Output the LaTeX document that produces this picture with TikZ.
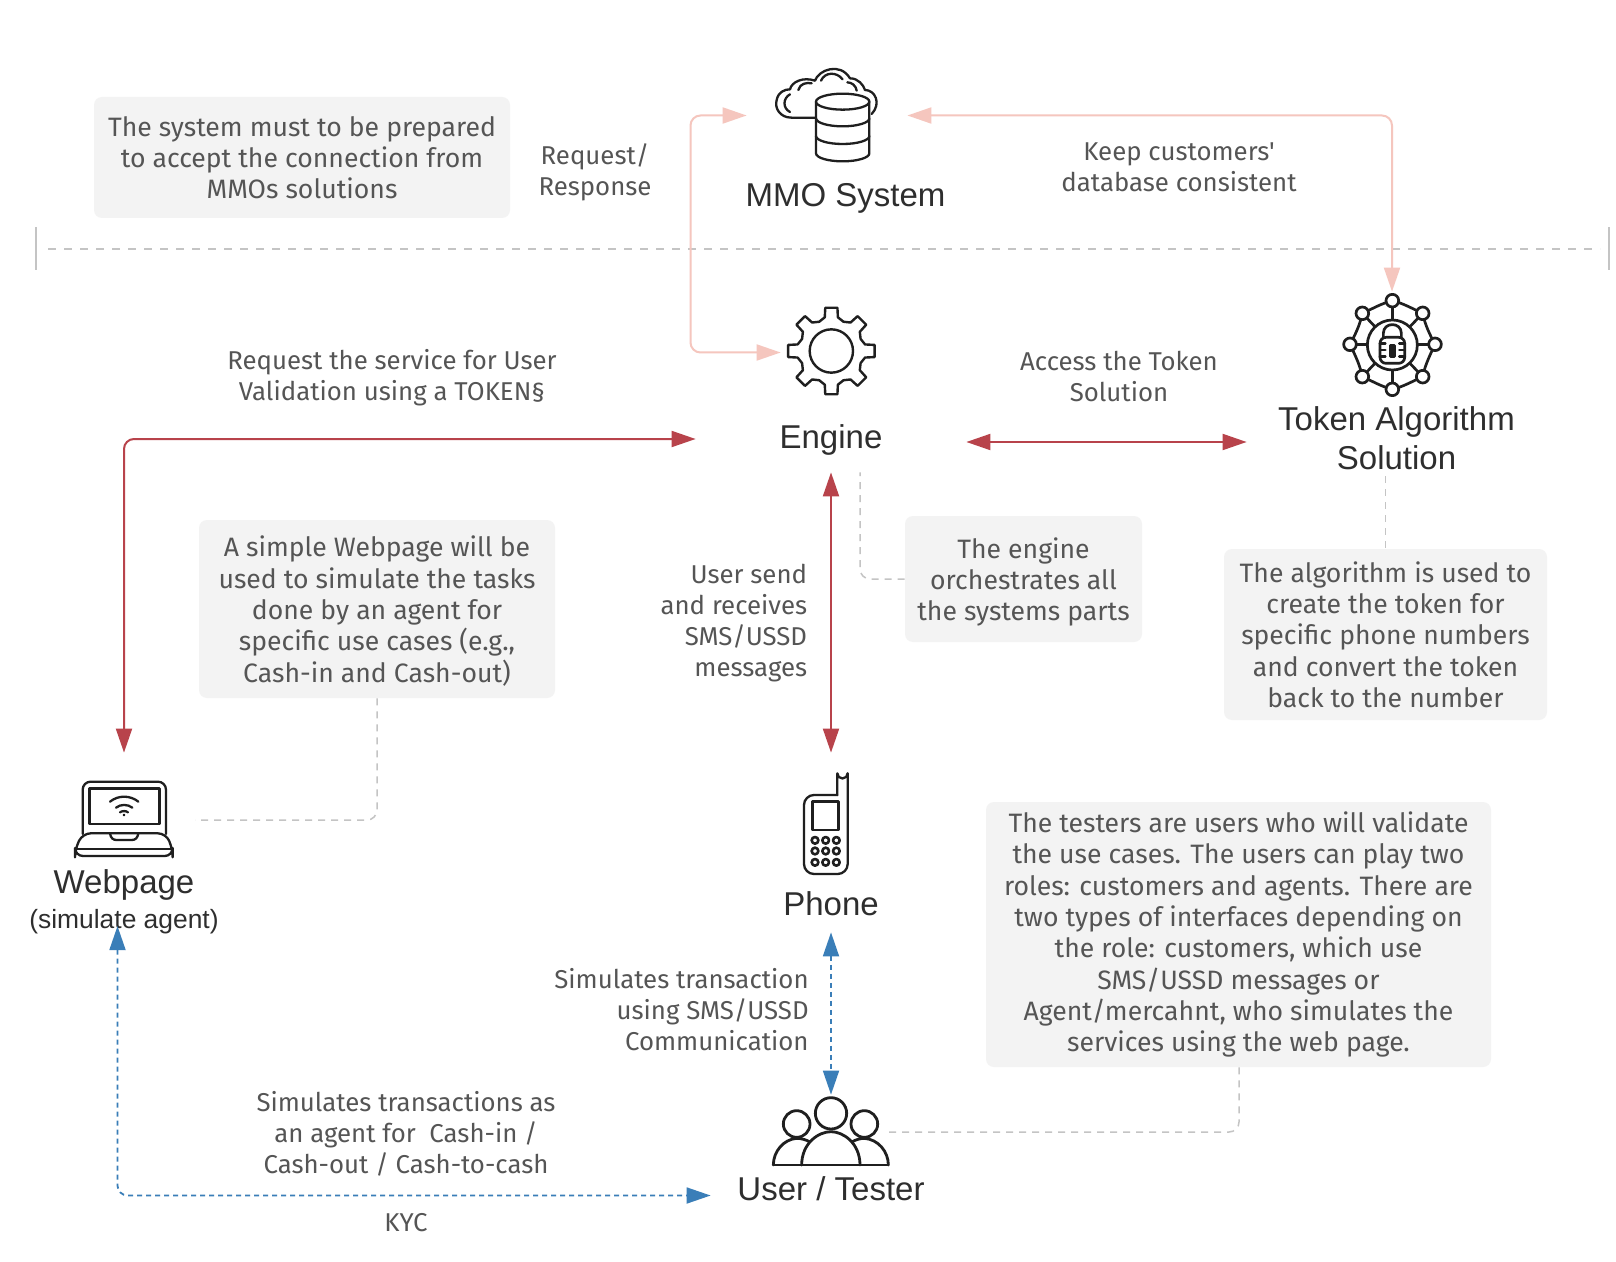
\documentclass[tikz,border=0pt]{standalone}
\usepackage{fontspec}
\setmainfont{Liberation Sans}
\newfontfamily\notefont{Fira Sans}
\usetikzlibrary{arrows.meta,calc}
\definecolor{notefill}{HTML}{F3F3F3}
\definecolor{notetext}{HTML}{555555}
\definecolor{softpink}{HTML}{F5C6BE}
\definecolor{darkred}{HTML}{B8434B}
\definecolor{flowblue}{HTML}{3A7EB8}
\definecolor{dashgrey}{HTML}{C4C4C4}
\definecolor{icontext}{HTML}{2E2E2E}
\tikzset{
  notebox/.style={fill=notefill,rounded corners=4pt,inner sep=0pt,text=notetext,align=center,font=\notefont\fontsize{13.3}{15.65}\selectfont},
  caption/.style={inner sep=0pt,text=notetext,align=center,font=\notefont\fontsize{12.9}{15.45}\selectfont},
  rcaption/.style={inner sep=0pt,text=notetext,align=right,font=\notefont\fontsize{12.9}{15.45}\selectfont},
  title/.style={inner sep=0pt,text=icontext,align=center,font=\fontsize{16.5}{19.5}\selectfont},
  anchorbox/.style={inner sep=0pt,draw=none},
  pinkflow/.style={draw=softpink,line width=1pt,rounded corners=5pt,{Triangle[length=12pt,width=8pt,fill=softpink]}-{Triangle[length=12pt,width=8pt,fill=softpink]}},
  redflow/.style={draw=darkred,line width=1pt,rounded corners=5pt,{Triangle[length=12pt,width=8pt,fill=darkred]}-{Triangle[length=12pt,width=8pt,fill=darkred]}},
  blueflow/.style={draw=flowblue,line width=.9pt,dash pattern=on 2.5pt off 2pt,rounded corners=5pt,{Triangle[length=12pt,width=8pt,fill=flowblue]}-{Triangle[length=12pt,width=8pt,fill=flowblue]}},
  greydash/.style={draw=dashgrey,line width=.75pt,dash pattern=on 3.5pt off 3pt,rounded corners=5pt},
  iconline/.style={draw=black!88,line width=1.15pt,line join=round,line cap=round},
}
\begin{document}
\begin{tikzpicture}[x=0.5pt,y=-0.5pt]
\useasboundingbox (0,0) rectangle (1616,1262);
\fill[white] (0,0) rectangle (1616,1262);

% notes
\node[notebox,minimum width=208pt,minimum height=60.5pt] (noteSys) at (302,157.5) {The system must to be prepared\\to accept the connection from\\MMOs solutions};
\node[notebox,minimum width=178pt,minimum height=89pt] (noteWeb) at (377,609) {\rule{0pt}{12.5pt}A simple Webpage will be\\used to simulate the tasks\\done by an agent for\\specific use cases (e.g.,\\Cash-in and Cash-out)};
\node[notebox,minimum width=118.5pt,minimum height=63pt] (noteEng) at (1023.5,579) {\rule{0pt}{13.5pt}The engine\\orchestrates all\\the systems parts};
\node[notebox,minimum width=161.5pt,minimum height=85.5pt] (noteTok) at (1385.5,634.5) {The algorithm is used to\\create the token for\\specific phone numbers\\and convert the token\\back to the number};
\node[notebox,minimum width=252.5pt,minimum height=132.5pt] (noteTest) at (1238.5,934.5) {\rule{0pt}{10.5pt}The testers are users who will validate\\the use cases. The users can play two\\roles: customers and agents. There are\\two types of interfaces depending on\\the role: customers, which use\\SMS/USSD messages or\\Agent/mercahnt, who simulates the\\services using the web page.};

% separator
\coordinate (sepL) at (36,249);
\coordinate (sepR) at (1609,249);
\draw[draw=dashgrey,line width=.75pt,dash pattern=on 4pt off 4pt] (48,249) -- (1600,249);
\draw[draw=dashgrey,line width=1pt] ([yshift=-10.5pt]sepL) -- ([yshift=11pt]sepL);
\draw[draw=dashgrey,line width=1pt] ([yshift=-10.5pt]sepR) -- ([yshift=11pt]sepR);

% anchor boxes for icons
\node[anchorbox,minimum width=80pt,minimum height=52pt] (mmo) at (827,115.5) {};
\node[anchorbox,minimum width=50pt,minimum height=50pt] (gear) at (831,352.5) {};
\node[anchorbox,minimum width=53pt,minimum height=53pt] (token) at (1392,345) {};
\node[anchorbox,minimum width=30pt,minimum height=67pt] (laptop) at (124,820) {};
\node[anchorbox,minimum width=30pt,minimum height=69pt] (phone) at (831,822) {};
\node[anchorbox,minimum width=60pt,minimum height=36pt] (users) at (831,1131) {};

% titles
\node[title] (mmoT) at (845.5,198) {MMO System};
\node[title,minimum width=135pt,minimum height=32pt] (engineT) at (831,440) {Engine};
\node[title] (tokenT) at (1396.5,438) {Token Algorithm\\Solution};
\node[anchorbox,minimum width=149pt,minimum height=10pt] (tokenPort) at (1396,442) {};
\node[title,minimum height=28pt] (phoneT) at (831,904) {Phone};
\node[title] (webT) at (124,885) {Webpage};
\node[inner sep=0pt,text=icontext,font=\fontsize{13.2}{15}\selectfont] (webS) at (124,922) {(simulate agent)};
\node[anchorbox,minimum width=10pt,minimum height=15pt] (webPort) at (117.5,941.5) {};
\node[title,minimum width=120pt,minimum height=13pt] (userT) at (831,1189) {User / Tester};

% captions
\node[caption] (c1) at (595,172) {Request/\\Response};
\node[caption] (c2) at (1179,167) {Keep customers'\\database consistent};
\node[caption] (c3) at (392,378) {Request the service for User\\Validation using a TOKEN§};
\node[caption] (c4) at (1119,376.5) {Access the Token\\Solution};
\node[rcaption,anchor=east] (c5) at (807.5,623) {User send\\and receives\\SMS/USSD\\messages};
\node[rcaption,anchor=east] (c6) at (809,1009.5) {Simulates transaction\\using SMS/USSD\\Communication};
\node[caption] (c7) at (406,1134) {Simulates transactions as\\an agent for~ Cash-in /\\Cash-out / Cash-to-cash};
\node[caption] (c8) at (406,1223) {KYC};

% routing points
\coordinate (rPinkL) at (690.5,115.5);
\coordinate (rPinkR) at (1392,115.5);
\coordinate (rRed) at (124,439);
\coordinate (rBlue) at (117.5,1195.5);
\coordinate (rWeb) at (377,820);
\coordinate (rEng) at (860,579);
\coordinate (rTest) at (1239,1132);

% connectors
\draw[pinkflow] (gear.west) -| (rPinkL) -- (mmo.west);
\draw[pinkflow] (mmo.east) -- (rPinkR) -- (token.north);
\draw[redflow] (engineT.west |- rRed) -- (rRed) -- (laptop.north -| rRed);
\draw[redflow] (engineT.east |- tokenPort) -- (tokenPort.west);
\draw[redflow] (engineT.south) -- (phone.north);
\draw[blueflow] (phoneT.south) -- (users.north);
\draw[blueflow] (webPort.north) -- (rBlue) -- (userT.west |- rBlue);
\draw[greydash] (noteWeb.south) |- (195,820);
\draw[greydash] (noteEng.west) -| (engineT.south -| rEng);
\draw[greydash] (tokenT.south -| noteTok.north) ++(0,6) -- (noteTok.north);
\draw[greydash] (noteTest.south -| rTest) -- (rTest) -- (888,1132);

% MMO icon
\begin{scope}[shift={(740,50)},x=0.16667pt,y=-0.16667pt,iconline]
\draw (225,203) -- (155,203) .. controls (120,203) and (103,175) .. (110,150) .. controls (115,125) and (135,118) .. (150,118) .. controls (155,95) and (190,80) .. (225,92) .. controls (235,60) and (300,35) .. (330,85) .. controls (355,85) and (370,105) .. (375,120) .. controls (405,120) and (425,160) .. (395,192);
\draw (150,133) .. controls (128,145) and (128,175) .. (150,186);
\draw (175,120) .. controls (180,100) and (200,97) .. (215,100);
\draw (243,92) .. controls (255,65) and (290,65) .. (308,88);
\draw (322,97) .. controls (335,97) and (348,107) .. (350,122);
\draw[fill=white] (228,155) -- (228,310) arc[start angle=180,end angle=360,x radius=80,y radius=-24] -- (388,155);
\draw[fill=white] (308,155) ellipse[x radius=80,y radius=24];
\draw (228,205) arc[start angle=180,end angle=360,x radius=80,y radius=-24];
\draw (228,258) arc[start angle=180,end angle=360,x radius=80,y radius=-24];
\end{scope}

% Gear icon
\begin{scope}[shift={(760,290)},x=0.16667pt,y=-0.16667pt,iconline,line width=1.2pt]
\draw (214,183) ++(-8:131)
  \foreach \a in {0,45,...,315}{ -- ++(0,0) -- ($(214,183)+(\a+8:131)$) -- ($(214,183)+(\a+11:103)$) -- ($(214,183)+(\a+22.5:95)$) -- ($(214,183)+(\a+34:103)$) -- ($(214,183)+(\a+37:131)$)} -- cycle;
\draw (214,183) circle[radius=65];
\end{scope}

% Token icon
\begin{scope}[shift={(1320,280)},x=0.16667pt,y=-0.16667pt,iconline,line width=1.35pt]
\foreach \p/\q in {217/62,127/100,308/100,90/193,345/193,127/290,308/290,217/328}{
  \draw (217,195) -- (\p,\q);
}
\draw (217,62) .. controls (185,70) and (160,85) .. (127,100) .. controls (120,135) and (105,165) .. (90,193) .. controls (105,225) and (120,255) .. (127,290) .. controls (160,305) and (185,320) .. (217,328) .. controls (250,320) and (275,305) .. (308,290) .. controls (315,255) and (330,225) .. (345,193) .. controls (330,165) and (315,135) .. (308,100) .. controls (275,85) and (250,70) .. (217,62) -- cycle;
\foreach \p/\q in {217/62,127/100,308/100,90/193,345/193,127/290,308/290,217/328}{
  \draw[fill=white] (\p,\q) circle[radius=19];
}
\draw[fill=white] (217,195) circle[radius=75];
\draw (190,172) -- (190,160) .. controls (190,125) and (244,125) .. (244,160) -- (244,172);
\draw[rounded corners=3pt] (180,172) rectangle (254,250);
\draw (180,190) -- (196,190) (180,210) -- (196,210) (180,230) -- (196,230);
\draw (238,190) -- (254,190) (238,210) -- (254,210) (238,230) -- (254,230);
\draw[fill=black!88] (211,197) rectangle (223,230);
\end{scope}

% Laptop icon
\begin{scope}[shift={(60,770)},x=0.16667pt,y=-0.16667pt,iconline]
\draw[rounded corners=4pt] (68,192) -- (68,35) -- (318,35) -- (318,192);
\draw[line width=1.3pt] (88,55) rectangle (298,162);
\draw[rounded corners=4pt] (68,190) -- (45,238) -- (45,258) -- (338,258) -- (338,238) -- (318,190) -- cycle;
\draw (45,236) -- (338,236);
\draw (150,190) .. controls (152,205) and (160,210) .. (170,210) -- (215,210) .. controls (225,210) and (233,205) .. (235,190);
\draw (150,95) .. controls (175,75) and (210,75) .. (235,95);
\draw (168,113) .. controls (182,102) and (203,102) .. (217,113);
\draw (180,127) .. controls (186,122) and (198,122) .. (204,127);
\fill (192,135) circle[radius=4];
\end{scope}

% Phone icon
\begin{scope}[shift={(780,760)},x=0.16667pt,y=-0.16667pt,iconline]
\draw[rounded corners=5pt] (172,105) -- (72,105) -- (72,342) -- (203,342) -- (203,40);
\draw (172,105) -- (172,40) arc[start angle=180,end angle=360,x radius=15.5,y radius=-15.5];
\draw[line width=1.4pt] (98,125) rectangle (175,210);
\foreach \q in {241,273,307}{\foreach \p in {105,137,169}{\draw[line width=1.3pt] (\p,\q) circle[radius=10];}}
\end{scope}

% Users icon
\begin{scope}[shift={(750,1080)},x=0.16667pt,y=-0.16667pt,iconline,line width=1.4pt]
\draw (70,255) .. controls (70,215) and (100,178) .. (140,175) .. controls (155,175) and (170,180) .. (180,186);
\draw (415,255) .. controls (415,215) and (385,178) .. (343,175) .. controls (330,175) and (315,180) .. (305,186);
\draw (140,132) circle[radius=40];
\draw (343,132) circle[radius=40];
\draw[fill=white] (155,255) .. controls (155,190) and (205,155) .. (243,155) .. controls (280,155) and (330,190) .. (330,255);
\draw (70,255) -- (415,255);
\draw[fill=white] (243,100) circle[radius=47];
\end{scope}
\end{tikzpicture}
\end{document}
